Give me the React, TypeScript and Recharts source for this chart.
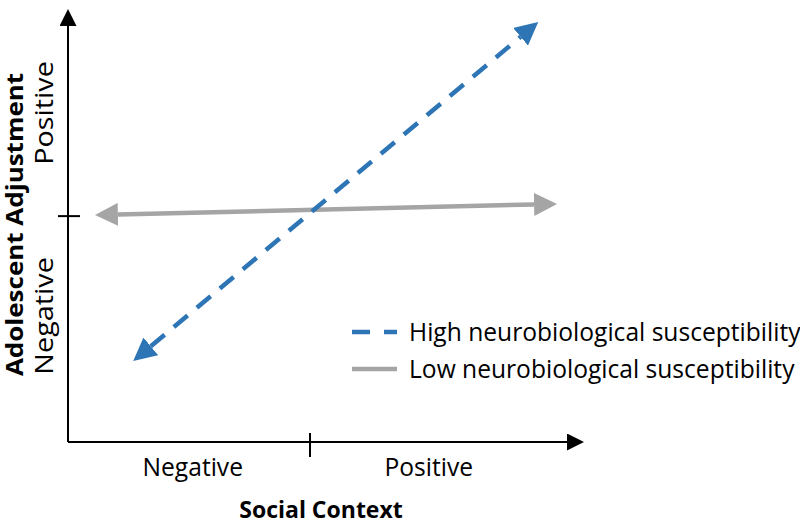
import React from 'react';
import { LineChart, Line, XAxis, YAxis, Legend, Label } from 'recharts';

// Series endpoints (arrow bases), in the chart's data units
const highX = [1.66, 9.07];
const highY = [2.3, 9.74];
const lowX = [1.0, 9.34];
const lowY = [5.47, 5.71];

const seriesNames = ['High neurobiological susceptibility', 'Low neurobiological susceptibility'];
const seriesColors = ['#2E75B6', '#A5A5A5'];

const xTickValues = [2.5, 4.85, 7.23];
const xTickLabels = ['Negative', '', 'Positive'];
const yTickValues = [3.03, 5.43, 7.91];
const yTickLabels = ['Negative', '', 'Positive'];

const xTitle = 'Social Context';
const yTitle = 'Adolescent Adjustment';

const highData = highX.map((x, i) => ({ x, y: highY[i] }));
const lowData = lowX.map((x, i) => ({ x, y: lowY[i] }));

const FONT = '"Open Sans", sans-serif';
const FS = 24.6;
const FS_BOLD = 23;
const VSCALE_LABEL = 1.17;
const VSCALE_TITLE = 1.13;

const findIdx = (arr: number[], v: number) => arr.findIndex((a) => Math.abs(a - v) < 1e-6);

const XTick = (props: any) => {
  const { x, y, payload } = props;
  const i = findIdx(xTickValues, payload.value);
  const label = xTickLabels[i];
  if (!label) {
    return <line x1={x} x2={x} y1={y - 9} y2={y + 15} stroke="#000" strokeWidth={2} />;
  }
  return (
    <text x={x} y={y + 34} textAnchor="middle" fontFamily={FONT} fontSize={FS} fill="#000">
      {label}
    </text>
  );
};

const YTick = (props: any) => {
  const { x, y, payload } = props;
  const i = findIdx(yTickValues, payload.value);
  const label = yTickLabels[i];
  if (!label) {
    return <line x1={x - 10} x2={x + 12} y1={y} y2={y} stroke="#000" strokeWidth={2} />;
  }
  return (
    <text
      x={0}
      y={0}
      transform={`translate(${x - 15},${y}) rotate(-90) scale(${VSCALE_LABEL},1)`}
      textAnchor="middle"
      fontFamily={FONT}
      fontSize={FS}
      fill="#000"
    >
      {label}
    </text>
  );
};

const XTitle = (props: any) => {
  const vb = props.viewBox || { x: 68, y: 442, width: 499, height: 82 };
  return (
    <text
      x={vb.x + vb.width / 2 + 3.5}
      y={vb.y + 76}
      textAnchor="middle"
      fontFamily={FONT}
      fontWeight="bold"
      fontSize={FS_BOLD}
      fill="#000"
    >
      {xTitle}
    </text>
  );
};

const YTitle = (props: any) => {
  const vb = props.viewBox || { x: 0, y: 26, width: 68, height: 416 };
  const cy = vb.y + vb.height / 2 - 9.5;
  return (
    <text
      x={0}
      y={0}
      transform={`translate(${vb.x + 23},${cy}) rotate(-90) scale(${VSCALE_TITLE},1)`}
      textAnchor="middle"
      fontFamily={FONT}
      fontWeight="bold"
      fontSize={FS_BOLD}
      fill="#000"
    >
      {yTitle}
    </text>
  );
};

const LegendContent = (props: any) => {
  const payload = props.payload && props.payload.length ? props.payload : [];
  const items = seriesNames.map((name, i) => {
    const p = payload.find((e: any) => e.value === name);
    return {
      name,
      color: (p && p.color) || seriesColors[i],
      dashed: i === 0,
    };
  });
  return (
    <div style={{ fontFamily: FONT, fontSize: FS, color: '#000' }}>
      {items.map((it) => (
        <div key={it.name} style={{ display: 'flex', alignItems: 'center', height: 37, whiteSpace: 'nowrap' }}>
          <svg width={45} height={10} style={{ marginRight: 12, flex: 'none' }}>
            <line
              x1={0}
              x2={45}
              y1={5}
              y2={5}
              stroke={it.color}
              strokeWidth={4.5}
              strokeDasharray={it.dashed ? '18 14' : undefined}
            />
          </svg>
          <span style={{ lineHeight: '37px' }}>{it.name}</span>
        </div>
      ))}
    </div>
  );
};

export default function App() {
  return (
    <div style={{ position: 'absolute', left: 0, top: 0, width: 800, height: 524, background: '#fff' }}>
      <svg width={0} height={0} style={{ position: 'absolute' }}>
        <defs>
          <marker id="arrowBlue" viewBox="0 0 23 23" refX={0} refY={11.5} markerWidth={23} markerHeight={23} markerUnits="userSpaceOnUse" orient="auto-start-reverse">
            <path d="M0,0 L23,11.5 L0,23 z" fill={seriesColors[0]} />
          </marker>
          <marker id="arrowGray" viewBox="0 0 23 23" refX={0} refY={11.5} markerWidth={23} markerHeight={23} markerUnits="userSpaceOnUse" orient="auto-start-reverse">
            <path d="M0,0 L23,11.5 L0,23 z" fill={seriesColors[1]} />
          </marker>
          <marker id="arrowAxis" viewBox="0 0 17 17" refX={0} refY={8.5} markerWidth={17} markerHeight={17} markerUnits="userSpaceOnUse" orient="auto-start-reverse">
            <path d="M0,0 L17,8.5 L0,17 z" fill="#000" />
          </marker>
        </defs>
      </svg>
      <LineChart width={800} height={524} margin={{ top: 26, right: 233, left: 0, bottom: 0 }}>
        <XAxis
          dataKey="x"
          type="number"
          domain={[0, 10]}
          ticks={xTickValues}
          tick={<XTick />}
          tickLine={false}
          tickSize={0}
          tickMargin={0}
          height={82}
          interval={0}
          axisLine={{ stroke: '#000', strokeWidth: 2, markerEnd: 'url(#arrowAxis)' } as any}
        >
          <Label content={<XTitle />} />
        </XAxis>
        <YAxis
          dataKey="y"
          type="number"
          domain={[0, 10]}
          ticks={yTickValues}
          tick={<YTick />}
          tickLine={false}
          tickSize={0}
          tickMargin={0}
          width={68}
          interval={0}
          axisLine={{ stroke: '#000', strokeWidth: 2, markerStart: 'url(#arrowAxis)' } as any}
        >
          <Label content={<YTitle />} />
        </YAxis>
        <Legend
          layout="vertical"
          align="center"
          verticalAlign="middle"
          content={<LegendContent />}
          wrapperStyle={{ left: 352, top: 313, width: 448 }}
        />
        <Line
          data={lowData}
          dataKey="y"
          name={seriesNames[1]}
          type="linear"
          stroke={seriesColors[1]}
          strokeWidth={4.5}
          dot={false}
          activeDot={false}
          isAnimationActive={false}
          markerStart="url(#arrowGray)"
          markerEnd="url(#arrowGray)"
        />
        <Line
          data={highData}
          dataKey="y"
          name={seriesNames[0]}
          type="linear"
          stroke={seriesColors[0]}
          strokeWidth={4.5}
          strokeDasharray="18 12"
          dot={false}
          activeDot={false}
          isAnimationActive={false}
          markerStart="url(#arrowBlue)"
          markerEnd="url(#arrowBlue)"
        />
      </LineChart>
    </div>
  );
}
